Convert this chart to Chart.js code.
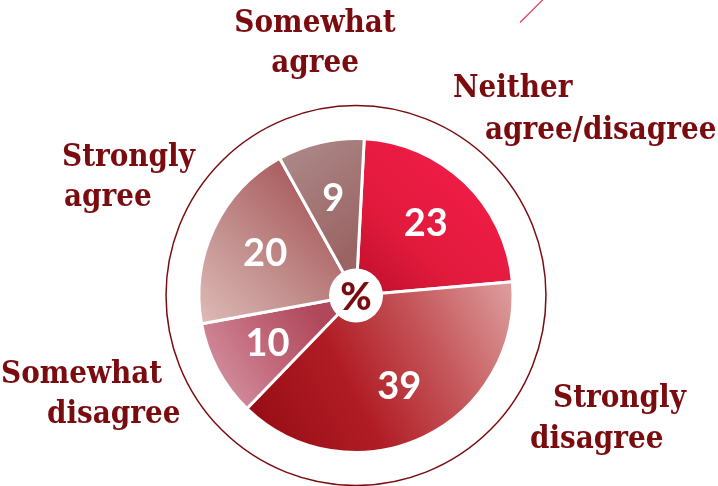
<!DOCTYPE html>
<html>
<head>
<meta charset="utf-8">
<script src="https://cdn.jsdelivr.net/npm/chart.js@4.4.1/dist/chart.umd.min.js"></script>
<style>
  body { margin: 0; background: #fff; }
  canvas { display: block; }
</style>
</head>
<body>
<canvas id="pie" width="718" height="486"></canvas>
<script>
// survey answers, clockwise from the top
const categories = ['Neither agree/disagree', 'Strongly disagree', 'Somewhat disagree', 'Strongly agree', 'Somewhat agree'];
const values = [23, 39, 10, 20, 9];
const labelLines = [['Neither', 'agree/disagree'], ['Strongly', 'disagree'], ['Somewhat', 'disagree'], ['Strongly', 'agree'], ['Somewhat', 'agree']];

const darkRed = '#7a0c10';
const labelFont = "bold 31px 'DejaVu Serif Condensed', 'DejaVu Serif', serif";
const numberFont = "bold 38px Lato, 'Open Sans', sans-serif";

// gradient per slice, points are in units of the pie radius from the centre
const sliceFills = [
  { from: [0.05, 0.1], to: [0.75, -0.65], stops: ['#b80e28', '#e11a3c', '#ee1c46'] },
  { from: [-0.6, 0.75], to: [0.95, -0.05], stops: ['#9a0f17', '#b11c24', '#c4565a', '#dc9a9a'] },
  { from: [-0.95, 0.55], to: [-0.25, 0.1], stops: ['#d493a2', '#c26a7c', '#b0475a'] },
  { from: [-1.0, 0.15], to: [-0.2, -0.65], stops: ['#ddbab6', '#c08c8a', '#a9595c'] },
  { from: [-0.4, -0.9], to: [0.05, -0.35], stops: ['#ab8686', '#9b6464'] }
];

// text placement relative to the pie centre (x = left edge unless centred)
const labelPos = [
  { align: 'left', lines: [[97, -199], [129, -157]] },
  { align: 'left', lines: [[197, 111], [174, 152]] },
  { align: 'left', lines: [[-355, 87], [-309, 127]] },
  { align: 'left', lines: [[-294, -130], [-292, -90]] },
  { align: 'center', lines: [[-41, -264], [-41, -224]] }
];

const sliceColor = (ctx) => {
  const chart = ctx.chart;
  const area = chart.chartArea;
  const style = sliceFills[ctx.dataIndex];
  if (!area) return style.stops[0];
  const cx = (area.left + area.right) / 2;
  const cy = (area.top + area.bottom) / 2;
  const r = Math.min(area.width, area.height) / 2;
  const g = chart.ctx.createLinearGradient(
    cx + style.from[0] * r, cy + style.from[1] * r,
    cx + style.to[0] * r, cy + style.to[1] * r);
  style.stops.forEach((c, i) => g.addColorStop(i / (style.stops.length - 1), c));
  return g;
};

const decorations = {
  id: 'decorations',
  beforeDatasetsDraw(chart) {
    const arc = chart.getDatasetMeta(0).data[0];
    if (!arc) return;
    const ctx = chart.ctx;
    ctx.save();
    // thin outer ring
    ctx.beginPath();
    ctx.arc(arc.x, arc.y, arc.outerRadius * 1.21, 0, Math.PI * 2);
    ctx.strokeStyle = darkRed;
    ctx.lineWidth = 1.5;
    ctx.stroke();
    // little accent stroke at the top right
    ctx.beginPath();
    ctx.moveTo(arc.x + 164, arc.y - 273);
    ctx.lineTo(arc.x + 190, arc.y - 299);
    ctx.strokeStyle = '#e8385a';
    ctx.lineWidth = 1.2;
    ctx.stroke();
    ctx.restore();
  },
  afterDatasetsDraw(chart) {
    const meta = chart.getDatasetMeta(0);
    const ctx = chart.ctx;
    const cx = meta.data[0].x;
    const cy = meta.data[0].y;
    ctx.save();

    // numbers inside the slices
    ctx.fillStyle = '#fff';
    ctx.font = numberFont;
    ctx.textAlign = 'center';
    ctx.textBaseline = 'middle';
    meta.data.forEach((arc, i) => {
      const mid = (arc.startAngle + arc.endAngle) / 2;
      const r = arc.outerRadius * 0.64;
      ctx.fillText(String(values[i]), arc.x + Math.cos(mid) * r, arc.y + Math.sin(mid) * r + 1);
    });

    // white hub with the percent sign
    ctx.beginPath();
    ctx.arc(cx, cy, 27, 0, Math.PI * 2);
    ctx.fillStyle = '#fff';
    ctx.fill();
    ctx.fillStyle = darkRed;
    ctx.font = "900 38px Lato, 'Open Sans', sans-serif";
    ctx.fillText('%', cx, cy + 2);

    // category names around the pie
    ctx.font = labelFont;
    ctx.textBaseline = 'alphabetic';
    labelLines.forEach((lines, i) => {
      const pos = labelPos[i];
      ctx.textAlign = pos.align;
      lines.forEach((txt, j) => {
        ctx.fillText(txt, cx + pos.lines[j][0], cy + pos.lines[j][1]);
      });
    });
    ctx.restore();
  }
};

new Chart(document.getElementById('pie'), {
  type: 'pie',
  data: {
    labels: categories,
    datasets: [{
      data: values,
      backgroundColor: sliceColor,
      borderColor: '#fff',
      borderWidth: 3
    }]
  },
  options: {
    responsive: false,
    animation: false,
    rotation: 3,
    layout: { padding: { top: 137, bottom: 32, left: 100, right: 106 } },
    plugins: {
      legend: { display: false },
      tooltip: { enabled: false }
    }
  },
  plugins: [decorations]
});
</script>
</body>
</html>
